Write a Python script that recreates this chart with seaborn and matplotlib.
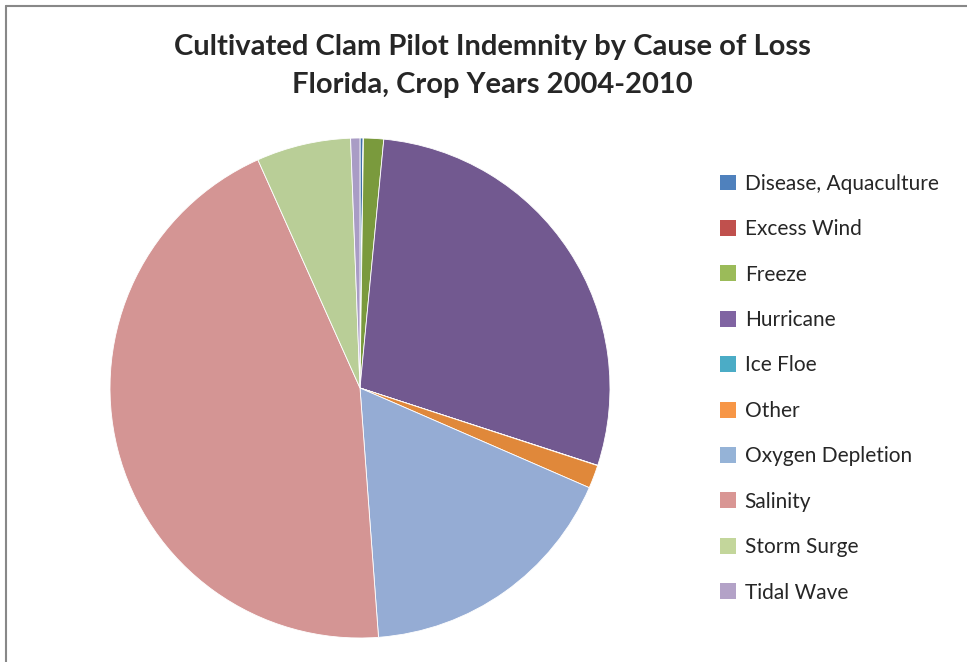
import numpy as np
import seaborn as sns
import matplotlib.pyplot as plt
from matplotlib.patches import Patch
from matplotlib.lines import Line2D

causes = ['Disease, Aquaculture', 'Excess Wind', 'Freeze', 'Hurricane', 'Ice Floe',
          'Other', 'Oxygen Depletion', 'Salinity', 'Storm Surge', 'Tidal Wave']
share = [0.2, 0.02, 1.3, 28.5, 0.02, 1.5, 17.3, 44.5, 6.1, 0.6]
pie_colors = ['#3F6FA8', '#B44442', '#7A9A3D', '#725990', '#3E9DB5',
              '#E0883A', '#95ACD4', '#D49594', '#B9CE97', '#A99CC5']
legend_colors = ['#4F81BD', '#C0504D', '#9BBB59', '#8064A2', '#4BACC6',
                 '#F79646', '#95B3D7', '#D99694', '#C3D69B', '#B3A2C7']

sns.set_style('white')
plt.rcParams['font.family'] = ['Lato', 'DejaVu Sans']

fig = plt.figure(figsize=(9.67, 6.62), dpi=100)
ax = fig.add_axes([110 / 967, 1 - 638 / 662, 500 / 967, 500 / 662])
ax.pie(share, colors=pie_colors, startangle=90, counterclock=False,
       wedgeprops=dict(edgecolor='white', linewidth=0.6))
ax.set_xlim(-1, 1)
ax.set_ylim(-1, 1)
ax.set_aspect('equal')

fig.text(492 / 967, 1 - 47 / 662, 'Cultivated Clam Pilot Indemnity by Cause of Loss',
         ha='center', va='center', fontsize=21, fontweight='bold')
fig.text(492 / 967, 1 - 85 / 662, 'Florida, Crop Years 2004-2010',
         ha='center', va='center', fontsize=21, fontweight='bold')

handles = [Patch(facecolor=c, edgecolor='none') for c in legend_colors]
fig.legend(handles, causes, loc='upper left', bbox_to_anchor=(701 / 967, 1 - 155 / 662),
           frameon=False, fontsize=15, labelspacing=1.22, handlelength=0.8,
           handleheight=0.8, handletextpad=0.4)

# chart border (left and top only visible)
fig.add_artist(Line2D([6 / 967, 6 / 967], [0, 1 - 6 / 662], color='#888888', linewidth=1.5))
fig.add_artist(Line2D([6 / 967, 1], [1 - 6 / 662, 1 - 6 / 662], color='#888888', linewidth=1.5))

fig.savefig('out.png', dpi=100)
